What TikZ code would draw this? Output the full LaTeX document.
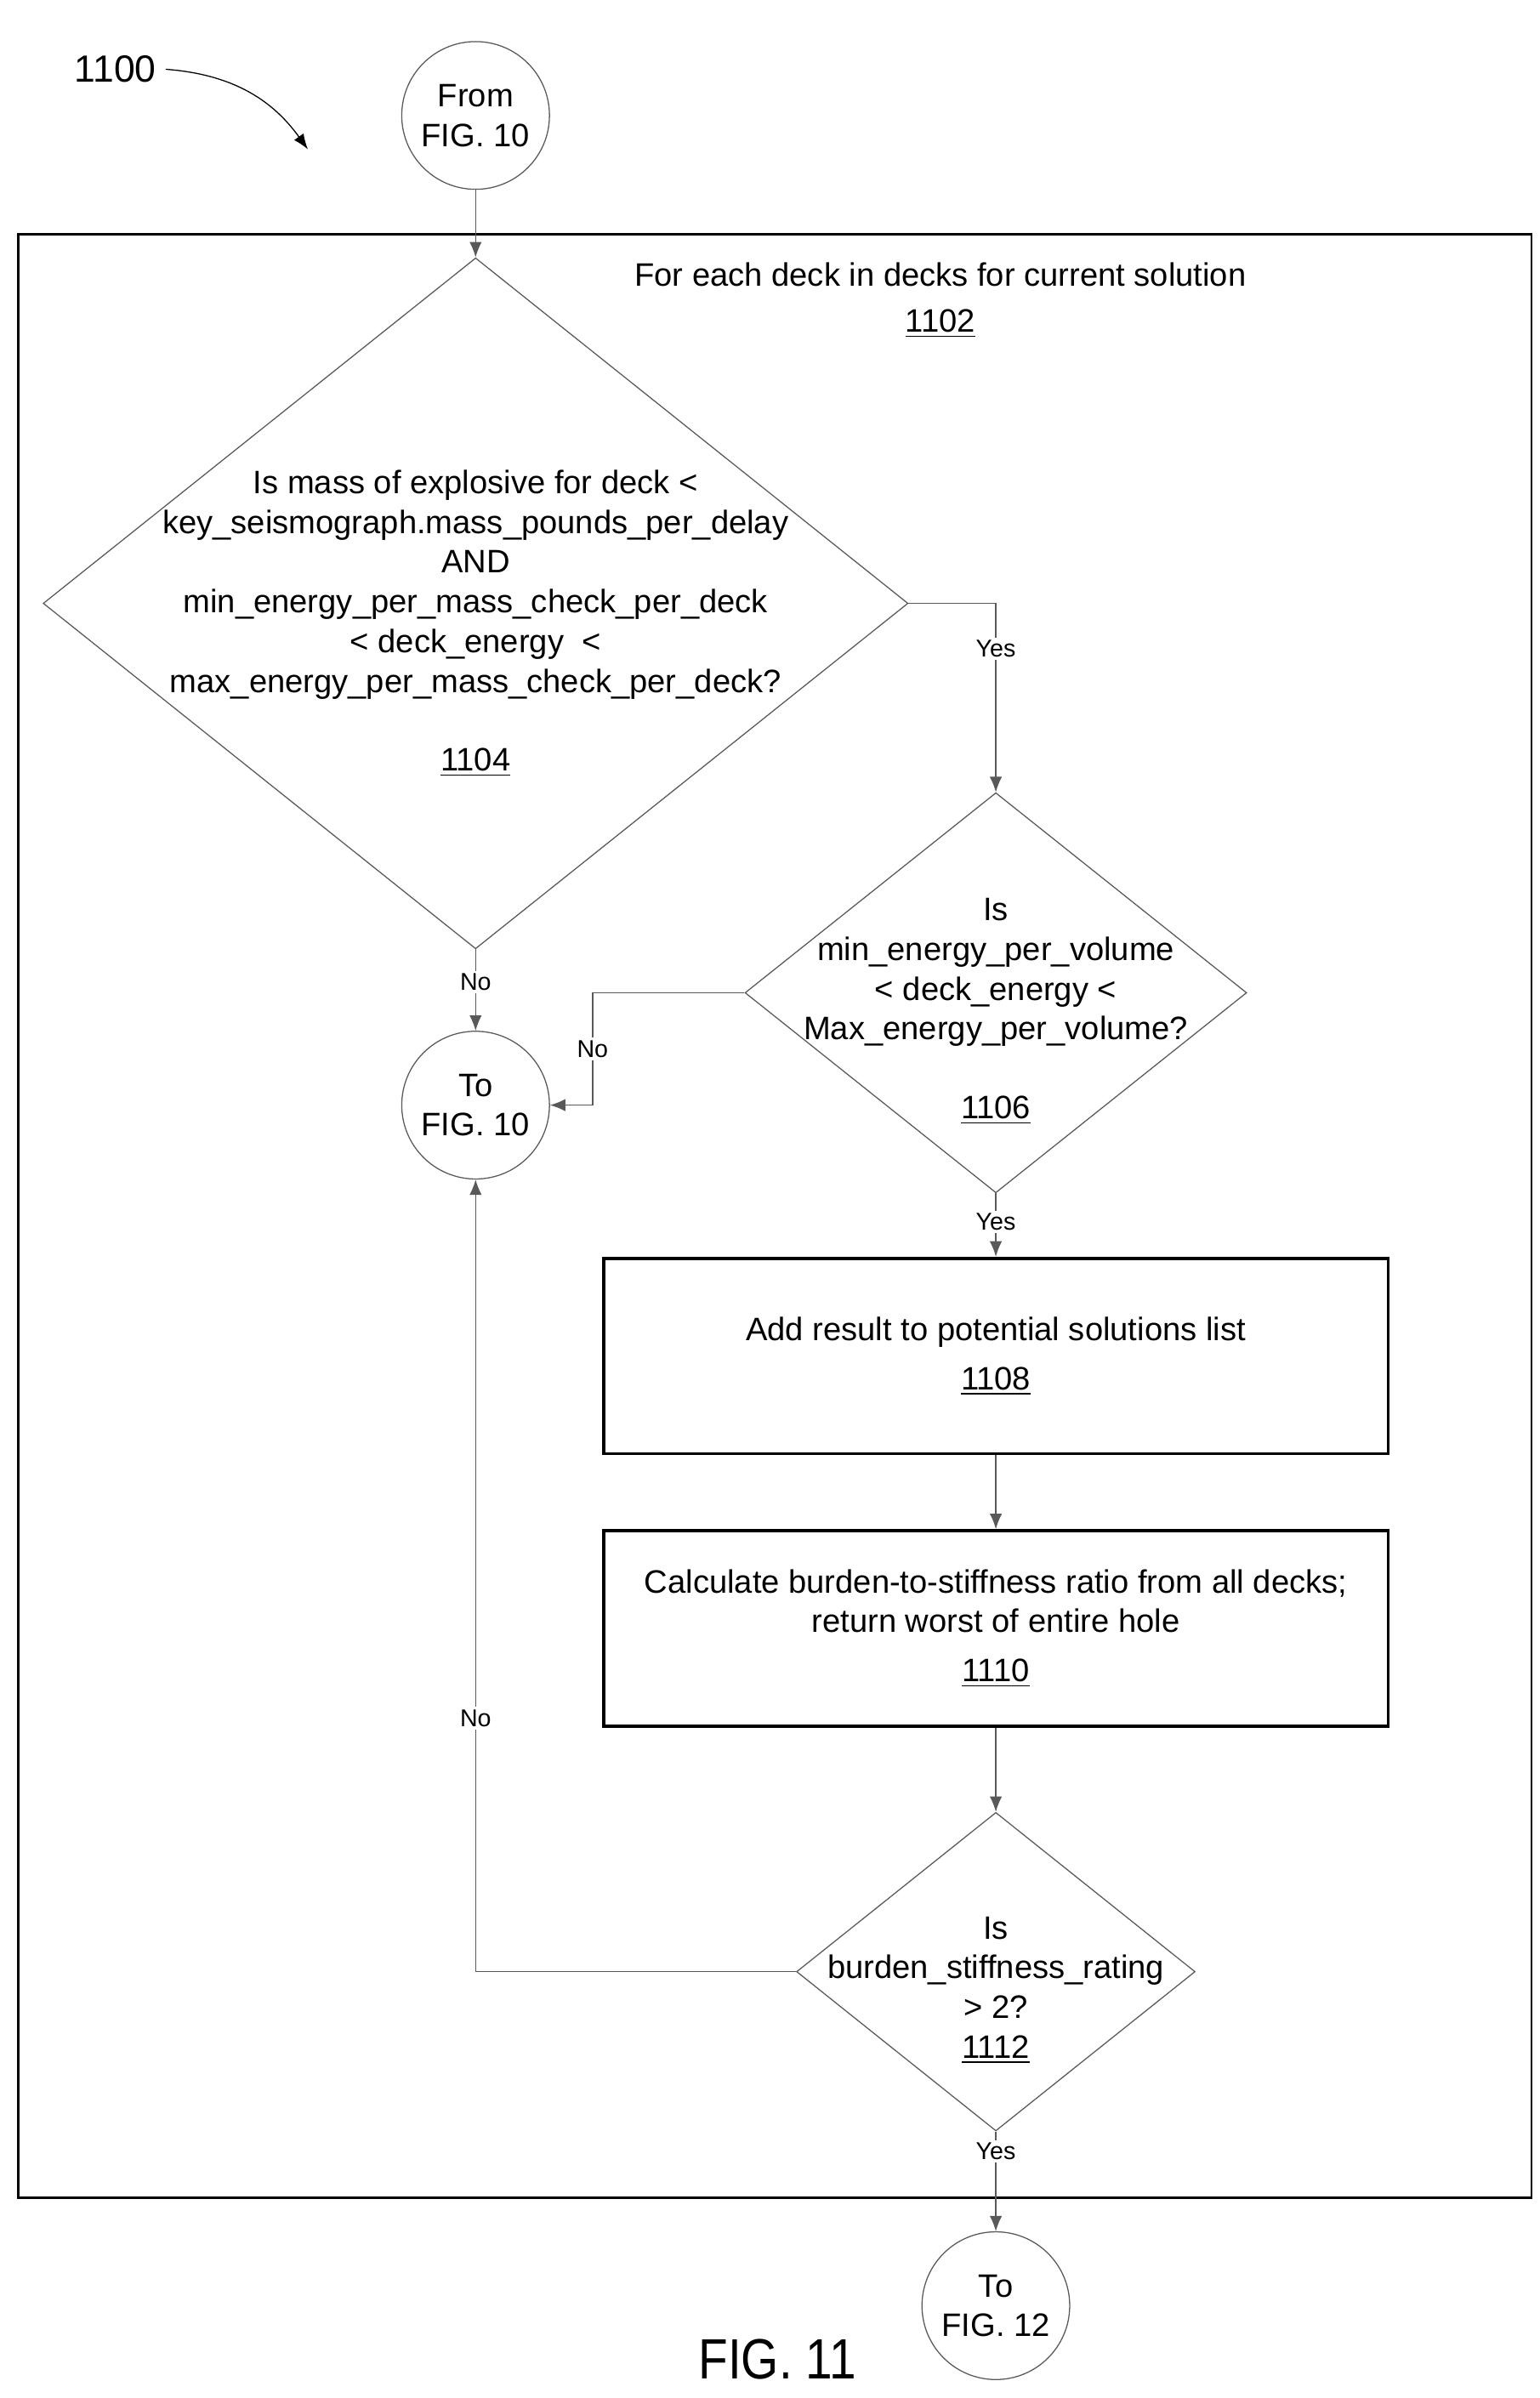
\documentclass[tikz,border=0pt]{standalone}
\usepackage{fontspec}
\setmainfont{Liberation Sans}
\usetikzlibrary{shapes.geometric,arrows.meta,positioning}
\tikzset{decision/.style={diamond, draw=gray!70!black, inner sep=0pt}}
\tikzset{process/.style={rectangle, draw, line width=1.2pt, minimum width=10.2cm, minimum height=2.54cm}}
\tikzset{conn/.style={circle, draw=gray!70!black, minimum size=1.92cm, inner sep=0pt, align=center}}
\tikzset{txt/.style={align=center, font=\fontsize{12}{14.7}\selectfont, inner sep=0pt}}
\tikzset{lbl/.style={font=\fontsize{9}{10}\selectfont, fill=white, inner sep=1pt}}
\tikzset{line/.style={draw=gray!70!black, -{Latex[length=2mm,width=1.6mm]}}}
\begin{document}
\begin{tikzpicture}[x=0.02cm,y=-0.02cm]
\useasboundingbox (0,0) rectangle (1000,1558);
% outer loop box
\draw[line width=0.9pt] (12,152) rectangle (995,1428);
\node[txt] (loop) at (611,195) {For each deck in decks for current solution\\[0.2em]\underline{1102}};
\node[font=\fontsize{14}{16}\selectfont] (fignum) at (75,45) {1100};
\coordinate (figtip) at (200,97);
\draw[-{Latex[length=2mm]}] (fignum.east) to[bend left=25] (figtip);
% connectors
\node[conn, txt] (from10) at (309,75) {From\\FIG. 10};
\node[conn, txt] (to10) at (309,718) {To\\FIG. 10};
\node[conn, txt] (to12) at (647,1498) {To\\FIG. 12};
% decisions
\node[decision, minimum width=11.24cm, minimum height=8.98cm] (d1104) at (309,392) {};
\node[txt] (t1104) at (309,405) {Is mass of explosive for deck <\\key\_seismograph.mass\_pounds\_per\_delay\\AND\\min\_energy\_per\_mass\_check\_per\_deck\\< deck\_energy \ <\\max\_energy\_per\_mass\_check\_per\_deck?\\[1.2em]\underline{1104}};
\node[decision, minimum width=6.52cm, minimum height=5.2cm] (d1106) at (647,645) {};
\node[txt] (t1106) at (647,657) {Is\\min\_energy\_per\_volume\\< deck\_energy <\\Max\_energy\_per\_volume?\\[1.2em]\underline{1106}};
\node[process] (s1108) at (647,881) {};
\node[txt] (t1108) at (647,881) {Add result to potential solutions list\\[0.3em]\underline{1108}};
\node[process] (s1110) at (647,1058) {};
\node[txt] (t1110) at (647,1058) {Calculate burden-to-stiffness ratio from all decks;\\return worst of entire hole\\[0.3em]\underline{1110}};
\node[decision, minimum width=5.18cm, minimum height=4.14cm] (d1112) at (647,1281) {};
\node[txt] (t1112) at (647,1293) {Is\\burden\_stiffness\_rating\\> 2?\\\underline{1112}};
% arrows
\path[line] (from10) -- (d1104.north);
\path[line] (d1104.east) -| node[lbl, pos=0.62] {Yes} (d1106.north);
\path[line] (d1104.south) -- node[lbl, pos=0.4] {No} (to10);
\path[line] (d1106.west) -| node[lbl, pos=0.75, fill=white] {No} (385,718) -- (to10.east);
\path[line] (d1106.south) -- node[lbl, pos=0.45] {Yes} (s1108.north);
\path[line] (s1108) -- (s1110);
\path[line] (s1110) -- (d1112.north);
\path[line] (d1112.west) -| node[lbl, pos=0.66] {No} (to10.south);
\path[line] (d1112.south) -- node[lbl, pos=0.2] {Yes} (to12);
\node[font=\fontsize{21}{24}\selectfont, xscale=0.85] (fig) at (505,1533) {FIG. 11};
\end{tikzpicture}
\end{document}
